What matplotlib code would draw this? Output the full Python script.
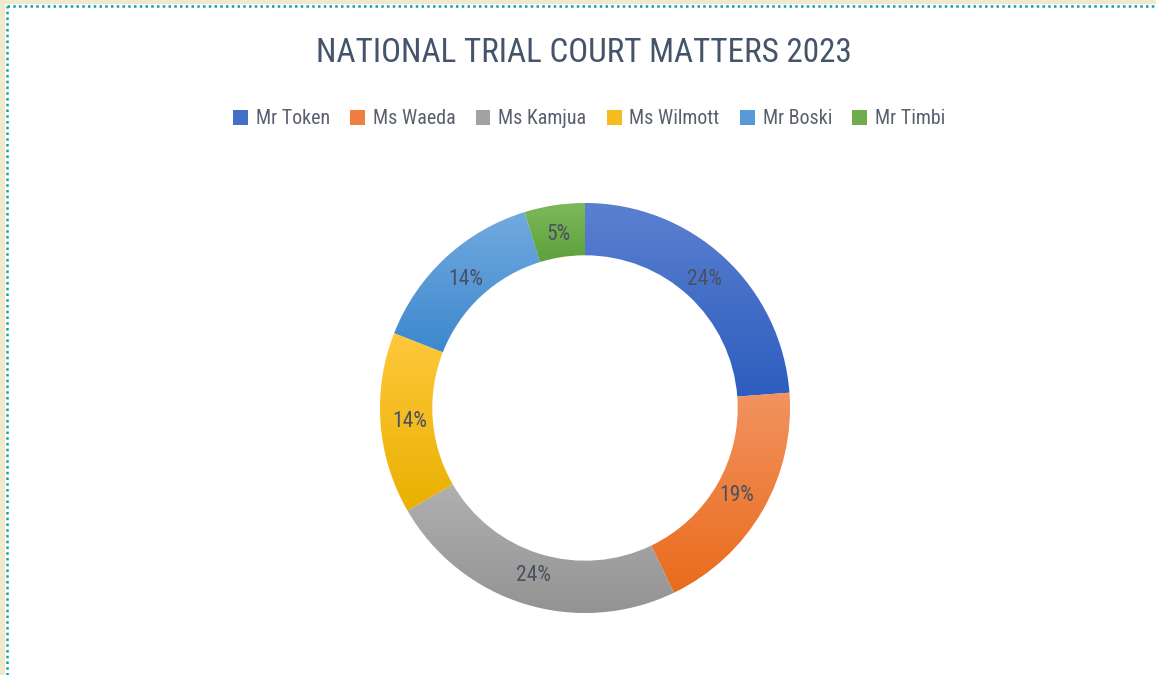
import numpy as np
import matplotlib
matplotlib.use("Agg")
import matplotlib.pyplot as plt
from matplotlib import font_manager
from matplotlib.lines import Line2D
from matplotlib.patches import Rectangle, Patch
from matplotlib.colors import LinearSegmentedColormap, to_rgb

# ---- data ----
names = ["Mr Token", "Ms Waeda", "Ms Kamjua", "Ms Wilmott", "Mr Boski", "Mr Timbi"]
matters = [5, 4, 5, 3, 3, 1]
top_colors = ["#5B80D0", "#F29360", "#B0B0B0", "#FFC83D", "#72AADF", "#7DB95C"]
bottom_colors = ["#2D5DBE", "#E96B1B", "#939393", "#E9B000", "#3D88CE", "#5EA13A"]
title = "NATIONAL TRIAL COURT MATTERS 2023"


def pick_font():
    for fam in ["Liberation Sans Narrow", "Roboto Condensed", "Open Sans Condensed",
                "Noto Sans Condensed", "Roboto", "Lato"]:
        try:
            font_manager.findfont(font_manager.FontProperties(family=fam),
                                  fallback_to_default=False)
            return fam
        except Exception:
            continue
    return "DejaVu Sans"


FONT = [pick_font(), "DejaVu Sans"]
W, H = 1156, 675
fig = plt.figure(figsize=(W / 100, H / 100), dpi=100)
fig.patch.set_facecolor("white")
renderer = fig.canvas.get_renderer()


def fit_size(txt, target_px, base=20):
    t = fig.text(0, 0, txt, fontsize=base, family=FONT)
    w = t.get_window_extent(renderer).width
    t.remove()
    return base * target_px / w


# border: beige strip + dotted teal line (left and top)
fig.patches.append(Rectangle((0, 0), 5 / W, 1, transform=fig.transFigure,
                             facecolor="#EFEACB", edgecolor="none"))
fig.patches.append(Rectangle((0, 1 - 4 / H), 1, 4 / H, transform=fig.transFigure,
                             facecolor="#EFEACB", edgecolor="none"))
for xs, ys in [([7 / W, 7 / W], [0, 1 - 6 / H]), ([7 / W, 1], [1 - 6 / H, 1 - 6 / H])]:
    fig.lines.append(Line2D(xs, ys, transform=fig.transFigure, color="#14A0A0",
                            linewidth=1.8, linestyle=(0, (1, 1.3)),
                            dash_capstyle="butt"))

# donut axes: center (585, 408) px from top, outer radius 205 px
cx, cy, R = 585, 408, 205
ax = fig.add_axes([(cx - R) / W, (H - cy - R) / H, 2 * R / W, 2 * R / H])
lbl_size = min(fit_size("24%", 35), 21)
wedges, texts, autotexts = ax.pie(
    matters, startangle=90, counterclock=False, radius=1,
    colors=top_colors, autopct="%1.0f%%", pctdistance=0.855,
    wedgeprops=dict(width=0.255, edgecolor="white", linewidth=0.8),
    textprops=dict(color="#4A5060", fontsize=lbl_size, family=FONT))
ax.set_aspect("equal")
ax.axis("off")

# vertical gradient fill per slice
grad = np.linspace(0, 1, 256).reshape(-1, 1)
for w, c0, c1 in zip(wedges, top_colors, bottom_colors):
    path = w.get_path().transformed(w.get_patch_transform())
    ext = path.get_extents()
    cmap = LinearSegmentedColormap.from_list("g", [c1, c0])
    im = ax.imshow(grad, cmap=cmap, origin="lower", aspect="auto",
                   extent=[ext.x0, ext.x1, ext.y0, ext.y1], zorder=w.get_zorder() + 0.1,
                   interpolation="bilinear")
    im.set_clip_path(w)
for t in autotexts:
    t.set_zorder(10)
ax.set_xlim(-1, 1)
ax.set_ylim(-1, 1)

# title
fig.text(584 / W, 1 - 53 / H, title, ha="center", va="center",
         fontsize=fit_size(title, 536), color="#44546A", family=FONT)

# legend
leg_size = fit_size("Mr Token", 74)
mid_colors = [tuple((np.array(to_rgb(a)) + np.array(to_rgb(b))) / 2)
              for a, b in zip(top_colors, bottom_colors)]
handles = [Patch(facecolor=c, edgecolor="none") for c in mid_colors]
fig.legend(handles, names, loc="center", bbox_to_anchor=(589 / W, 1 - 119 / H),
           ncol=6, frameon=False, handlelength=0.75, handleheight=0.75,
           handletextpad=0.4, columnspacing=1.0,
           prop=dict(family=FONT, size=leg_size), labelcolor="#595F6E")

fig.savefig("out.png", dpi=100, facecolor="white")
